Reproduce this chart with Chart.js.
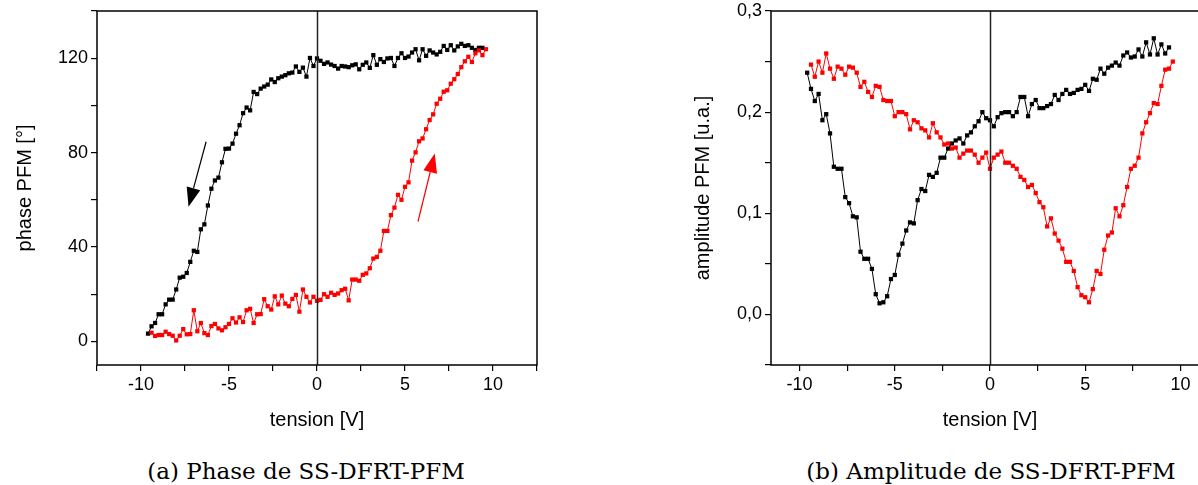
<!DOCTYPE html>
<html lang="fr">
<head>
<meta charset="UTF-8">
<title>SS-DFRT-PFM</title>
<script src="https://cdn.jsdelivr.net/npm/chart.js"></script>
<style>
  body { margin: 0; width: 1198px; height: 485px; overflow: hidden; background: #fff; position: relative; }
  .boite { position: absolute; top: 0; width: 560px; height: 440px; }
  .legende { position: absolute; top: 458px; font-family: "DejaVu Serif", serif; font-size: 23px; white-space: nowrap; transform: translateX(-50%); color: #000; }
</style>
</head>
<body>
<div class="boite" style="left:0px"><canvas id="phase" width="560" height="440"></canvas></div>
<div class="boite" style="left:660px"><canvas id="amplitude" width="560" height="440"></canvas></div>
<div class="legende" style="left:306px">(a) Phase de SS-DFRT-PFM</div>
<div class="legende" style="left:991px">(b) Amplitude de SS-DFRT-PFM</div>

<script>
// tension aller (noir) et retour (rouge), en V
const tensionNoir = [-9.6,-9.4,-9.2,-9.0,-8.8,-8.6,-8.4,-8.2,-8.0,-7.8,-7.6,-7.4,-7.2,-7.0,-6.8,-6.6,-6.4,-6.2,-6.0,-5.8,
  -5.6,-5.4,-5.2,-5.0,-4.8,-4.6,-4.4,-4.2,-4.0,-3.8,-3.6,-3.4,-3.2,-3.0,-2.8,-2.6,-2.4,-2.2,-2.0,-1.8,
  -1.6,-1.4,-1.2,-1.0,-0.8,-0.6,-0.4,-0.2,0,0.2,0.4,0.6,0.8,1.0,1.2,1.4,1.6,1.8,2.0,2.2,
  2.4,2.6,2.8,3.0,3.2,3.4,3.6,3.8,4.0,4.2,4.4,4.6,4.8,5.0,5.2,5.4,5.6,5.8,6.0,6.2,
  6.4,6.6,6.8,7.0,7.2,7.4,7.6,7.8,8.0,8.2,8.4,8.6,8.8,9.0,9.2,9.4];
const tensionRouge = [-9.4,-9.2,-9.0,-8.8,-8.6,-8.4,-8.2,-8.0,-7.8,-7.6,-7.4,-7.2,-7.0,-6.8,-6.6,-6.4,-6.2,-6.0,-5.8,-5.6,
  -5.4,-5.2,-5.0,-4.8,-4.6,-4.4,-4.2,-4.0,-3.8,-3.6,-3.4,-3.2,-3.0,-2.8,-2.6,-2.4,-2.2,-2.0,-1.8,-1.6,
  -1.4,-1.2,-1.0,-0.8,-0.6,-0.4,-0.2,0,0.2,0.4,0.6,0.8,1.0,1.2,1.4,1.6,1.8,2.0,2.2,2.4,
  2.6,2.8,3.0,3.2,3.4,3.6,3.8,4.0,4.2,4.4,4.6,4.8,5.0,5.2,5.4,5.6,5.8,6.0,6.2,6.4,
  6.6,6.8,7.0,7.2,7.4,7.6,7.8,8.0,8.2,8.4,8.6,8.8,9.0,9.2,9.4,9.6];

// phase PFM [°]
const phaseNoir = [3.3,6.4,7.8,11.5,11.5,15.7,17.7,17.7,22,27,
  27.4,29,33.7,38.4,37.9,47.5,49.6,57.6,64.7,68.2,
  69.4,75.9,81.6,81.7,83.8,88,91.6,96.7,99.1,97.9,
  105.7,104.8,107.1,108,108.8,111,109.9,111.5,112.2,112.8,
  113.6,113.9,116.5,114.2,116,112.2,120.1,116.7,119.9,118.9,
  117.6,118.2,117.3,116.7,115.6,116.7,116.5,116.2,117,117.4,
  115.3,117.2,118.2,115.9,121.3,117.2,119.6,118.4,119.9,120.1,
  116.7,120.1,122.1,120.1,120.7,122.4,123.8,119.1,123.8,121,
  123.3,122.4,121.6,122.7,125.2,123.5,125.5,123.3,125,126.1,
  125.2,125.5,124.4,123.5,124.4,124.4];
const phaseRouge = [3.7,2.3,2.7,2.7,4.1,3.1,2.4,0.4,2.4,5.2,
  3.0,3.1,13.2,4.3,7.8,3.5,2.7,6.5,7.4,5.5,
  4.7,6.0,7.4,9.8,8.0,10.2,8.2,13.2,13.8,7.8,
  11.5,11.6,17.9,14.9,13.5,19.1,15.7,19.4,16,14.9,
  18,19.7,12.6,22,18.9,16.5,18.9,17.2,17.6,20,
  18.9,20.6,19.7,20.3,21.7,22.3,17.4,26.2,26.2,25.7,
  28.2,28.8,31,35.1,35.8,38.4,46.8,46.8,53.5,56.7,
  62.1,60,65.5,67.4,76.6,80.1,84.8,86,89.9,93.8,
  96.2,100.7,102.8,105.8,106.4,109.2,111.1,113.3,116.2,118.7,
  120.6,118.4,122.1,123.3,121.3,123.8];

// amplitude PFM [u.a.]
const ampNoir = [0.239,0.223,0.211,0.218,0.192,0.198,0.179,0.146,0.144,0.144,
  0.116,0.110,0.097,0.096,0.062,0.055,0.055,0.045,0.020,0.011,
  0.012,0.018,0.035,0.039,0.059,0.070,0.083,0.091,0.090,0.113,
  0.124,0.122,0.138,0.136,0.140,0.155,0.155,0.164,0.169,0.172,
  0.174,0.169,0.177,0.180,0.186,0.191,0.200,0.194,0.192,0.186,
  0.195,0.199,0.200,0.200,0.196,0.200,0.215,0.215,0.196,0.208,
  0.212,0.204,0.204,0.206,0.208,0.217,0.212,0.218,0.222,0.218,
  0.219,0.222,0.223,0.227,0.221,0.233,0.232,0.243,0.238,0.244,
  0.246,0.249,0.246,0.256,0.259,0.254,0.255,0.262,0.255,0.269,
  0.257,0.273,0.257,0.267,0.258,0.264];
const ampRouge = [0.247,0.235,0.250,0.239,0.258,0.243,0.233,0.245,0.243,0.237,
  0.245,0.244,0.239,0.225,0.230,0.220,0.215,0.226,0.225,0.212,
  0.211,0.211,0.196,0.200,0.200,0.198,0.183,0.192,0.190,0.184,
  0.182,0.175,0.189,0.180,0.175,0.168,0.169,0.164,0.165,0.155,
  0.159,0.162,0.162,0.158,0.150,0.155,0.160,0.144,0.155,0.158,
  0.161,0.150,0.150,0.147,0.144,0.136,0.133,0.126,0.128,0.120,
  0.111,0.106,0.087,0.095,0.080,0.073,0.065,0.052,0.052,0.043,
  0.027,0.019,0.017,0.012,0.025,0.043,0.040,0.064,0.078,0.081,
  0.105,0.097,0.108,0.126,0.144,0.147,0.155,0.179,0.190,0.199,
  0.209,0.208,0.226,0.242,0.243,0.250];

// graduations et etiquettes
const phaseTicksX = [-12.5,-10,-7.5,-5,-2.5,0,2.5,5,7.5,10,12.5];
const phaseLabelsX = ['','-10','','-5','','0','','5','','10',''];
const phaseTicksY = [0,20,40,60,80,100,120,140];
const phaseLabelsY = ['0','','40','','80','','120',''];
const ampTicksX = [-10,-7.5,-5,-2.5,0,2.5,5,7.5,10];
const ampLabelsX = ['-10','','-5','','0','','5','','10'];
const ampTicksY = [-0.05,0,0.05,0.1,0.15,0.2,0.25,0.3];
const ampLabelsY = ['','0,0','','0,1','','0,2','','0,3'];

// fleches du cycle (coordonnees en V / degres)
const flechesPhase = [
  { de: [-6.3, 84.6], a: [-7.3, 57.1], couleur: '#000' },
  { de: [5.74, 50.8], a: [6.69, 79.6], couleur: '#ff0000' }
];

Chart.defaults.font.family = '"Liberation Sans", Arial, sans-serif';
Chart.defaults.color = '#000';

// cadre complet + ligne verticale a 0 V
const cadre = {
  id: 'cadre',
  afterDatasetsDraw(chart) {
    const {ctx, chartArea: a, scales} = chart;
    ctx.save();
    const x0 = Math.round(scales.x.getPixelForValue(0)) + 0.5;
    ctx.strokeStyle = '#222';
    ctx.lineWidth = 1.5;
    ctx.beginPath();
    ctx.moveTo(x0, a.top);
    ctx.lineTo(x0, a.bottom);
    ctx.stroke();
    ctx.strokeStyle = '#000';
    ctx.strokeRect(a.left, a.top, a.right - a.left, a.bottom - a.top);
    ctx.restore();
  }
};

const fleches = {
  id: 'fleches',
  afterDatasetsDraw(chart, args, opts) {
    const {ctx, scales} = chart;
    (opts.liste || []).forEach(f => {
      const x1 = scales.x.getPixelForValue(f.de[0]), y1 = scales.y.getPixelForValue(f.de[1]);
      const x2 = scales.x.getPixelForValue(f.a[0]), y2 = scales.y.getPixelForValue(f.a[1]);
      const ang = Math.atan2(y2 - y1, x2 - x1);
      const L = 19, W = 7;
      const bx = x2 - L * Math.cos(ang), by = y2 - L * Math.sin(ang);
      ctx.save();
      ctx.strokeStyle = f.couleur;
      ctx.fillStyle = f.couleur;
      ctx.lineWidth = 1.2;
      ctx.beginPath();
      ctx.moveTo(x1, y1);
      ctx.lineTo(bx, by);
      ctx.stroke();
      ctx.beginPath();
      ctx.moveTo(x2, y2);
      ctx.lineTo(bx + W * Math.sin(ang), by - W * Math.cos(ang));
      ctx.lineTo(bx - W * Math.sin(ang), by + W * Math.cos(ang));
      ctx.closePath();
      ctx.fill();
      ctx.restore();
    });
  }
};

function serie(xs, ys, couleur) {
  return {
    data: xs.map((x, i) => ({x: x, y: ys[i]})),
    showLine: true,
    borderColor: couleur,
    backgroundColor: couleur,
    borderWidth: 1,
    tension: 0,
    pointStyle: 'rect',
    pointRadius: 3,
    pointBorderWidth: 0,
    pointBackgroundColor: couleur
  };
}

function axe(min, max, ticks, labels, titre, fit, titrePad) {
  return {
    type: 'linear', min: min, max: max,
    afterBuildTicks: s => { s.ticks = ticks.map(v => ({value: v})); },
    afterFit: s => {
      fit(s);
      // pas de marge supplementaire : le cadre est fixe par layout.padding
      s.paddingTop = 0; s.paddingBottom = 0; s.paddingLeft = 0; s.paddingRight = 0;
    },
    grid: { drawOnChartArea: false, drawTicks: true, tickLength: 6, color: '#000', lineWidth: 1.2 },
    border: { display: false },
    ticks: { font: { size: 18 }, color: '#000', padding: 3, autoSkip: false, maxRotation: 0,
      callback: (v, i) => labels[i] },
    title: { display: true, text: titre, font: { size: 20 }, color: '#000', padding: titrePad }
  };
}

function graphe(id, datasets, scales, pad, plugins, flechesListe) {
  return new Chart(document.getElementById(id), {
    type: 'scatter',
    data: { datasets: datasets },
    options: {
      responsive: false,
      animation: false,
      devicePixelRatio: 1,
      layout: { padding: pad },
      scales: scales,
      plugins: { legend: { display: false }, tooltip: { enabled: false }, fleches: { liste: flechesListe } }
    },
    plugins: plugins
  });
}

graphe('phase',
  [serie(tensionRouge, phaseRouge, '#ff0000'), serie(tensionNoir, phaseNoir, '#000')],
  {
    x: axe(-12.5, 12.5, phaseTicksX, phaseLabelsX, 'tension [V]', s => { s.height = 75; }, { top: 0, bottom: 8 }),
    y: axe(-10, 140, phaseTicksY, phaseLabelsY, 'phase PFM [°]', s => { s.width = 97; }, { top: 13, bottom: 0 })
  },
  { top: 11, right: 23, left: 0, bottom: 0 },
  [cadre, fleches], flechesPhase);

graphe('amplitude',
  [serie(tensionRouge, ampRouge, '#ff0000'), serie(tensionNoir, ampNoir, '#000')],
  {
    x: axe(-11.5, 11.5, ampTicksX, ampLabelsX, 'tension [V]', s => { s.height = 75; }, { top: 0, bottom: 8 }),
    y: axe(-0.05, 0.3, ampTicksY, ampLabelsY, 'amplitude PFM [u.a.]', s => { s.width = 111; }, { top: 31, bottom: 0 })
  },
  { top: 11, right: 11, left: 0, bottom: 0 },
  [cadre], []);
</script>
</body>
</html>
